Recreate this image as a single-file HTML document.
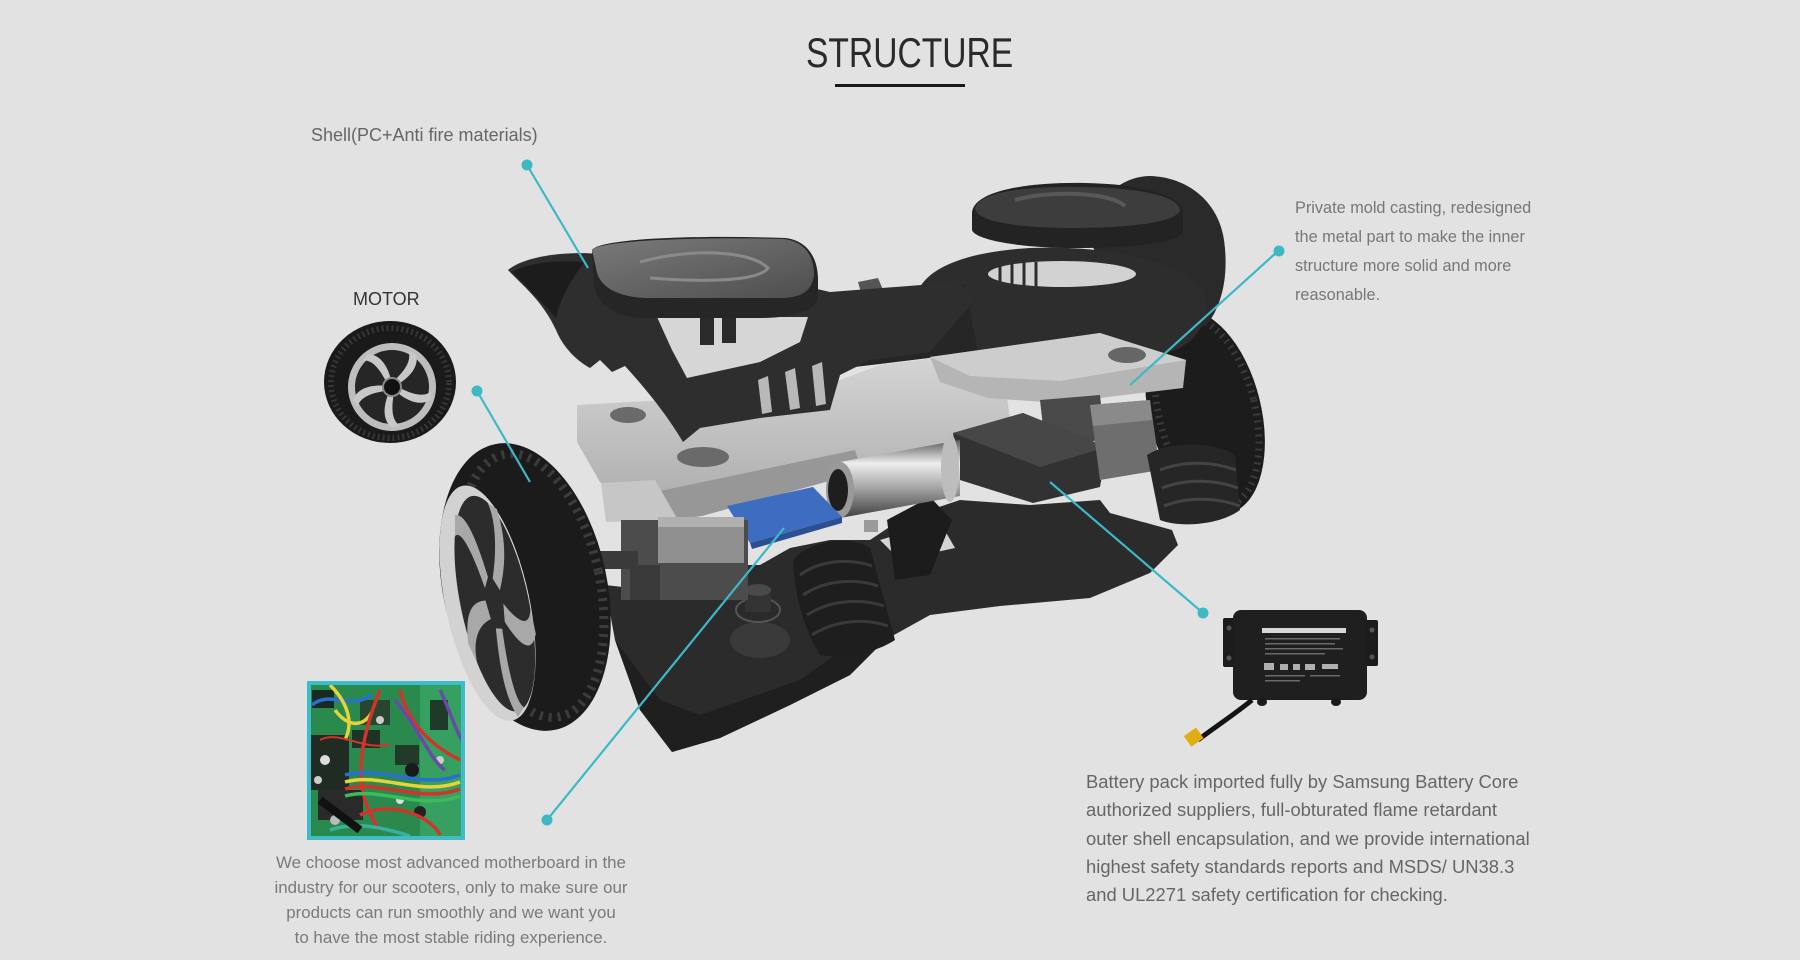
<!DOCTYPE html>
<html><head><meta charset="utf-8">
<style>
html,body{margin:0;padding:0;}
body{width:1800px;height:960px;background:#e2e2e2;position:relative;overflow:hidden;font-family:"Liberation Sans",sans-serif;}
svg{position:absolute;left:0;top:0;}
.t{position:absolute;white-space:nowrap;}
</style></head><body>
<svg width="1800" height="960" viewBox="0 0 1800 960">
<defs>
 <linearGradient id="cyl" x1="0" y1="0" x2="0" y2="1">
  <stop offset="0" stop-color="#5a5a5a"/><stop offset="0.3" stop-color="#eeeeee"/><stop offset="0.6" stop-color="#a8a8a8"/><stop offset="1" stop-color="#3e3e3e"/>
 </linearGradient>
 <linearGradient id="frame" x1="0" y1="0" x2="0" y2="1">
  <stop offset="0" stop-color="#d6d6d6"/><stop offset="1" stop-color="#a9a9a9"/>
 </linearGradient>
 <linearGradient id="pad" x1="0" y1="0" x2="1" y2="1">
  <stop offset="0" stop-color="#7a7a7a"/><stop offset="1" stop-color="#4e4e4e"/>
 </linearGradient>
 <clipPath id="mbclip"><rect x="309" y="683" width="154" height="155"/></clipPath>
</defs>

<!-- title underline -->
<rect x="835" y="84" width="130" height="3" fill="#1a1a1a"/>

<!-- right wheel -->
<g transform="rotate(-14 1205 412)">
 <ellipse cx="1205" cy="412" rx="56" ry="104" fill="#1c1c1c"/>
 <ellipse cx="1207" cy="412" rx="48" ry="96" fill="none" stroke="#3a3a3a" stroke-width="7" stroke-dasharray="2 5"/>
</g>

<!-- right hump -->
<path d="M1088,238 C1094,196 1124,176 1150,176 C1186,177 1218,200 1224,240 C1229,276 1222,306 1206,326 L1140,336 Z" fill="#2a2a2a"/>
<!-- right shell -->
<path d="M915,302 C918,270 962,252 1030,248 C1100,245 1172,258 1200,286 C1214,306 1204,336 1178,349 C1148,361 1060,363 990,363 C944,360 914,332 915,302 Z" fill="#2d2d2d"/>
<ellipse cx="1062" cy="274" rx="74" ry="13" fill="#d2d2d2"/>
<g stroke="#2d2d2d" stroke-width="3">
 <line x1="1000" y1="264" x2="1000" y2="286"/><line x1="1012" y1="262" x2="1012" y2="287"/><line x1="1024" y1="262" x2="1024" y2="287"/><line x1="1036" y1="262" x2="1036" y2="287"/>
</g>
<!-- right footpad -->
<path d="M972,212 C975,190 1030,182 1085,183 C1140,184 1180,194 1183,212 L1183,232 C1175,245 1120,248 1075,248 C1020,248 975,240 972,230 Z" fill="#232323"/>
<path d="M975,208 C980,191 1030,186 1085,187 C1140,188 1178,196 1180,210 C1178,222 1130,228 1075,228 C1020,228 976,222 975,208 Z" fill="#3d3d3d"/>
<path d="M1015,200 C1050,190 1110,192 1125,206" fill="none" stroke="#585858" stroke-width="4"/>

<!-- center tube -->
<path d="M800,302 L965,284 L978,352 L880,364 L812,372 Z" fill="#262626"/>
<path d="M858,282 L878,278 L884,292 L862,296 Z" fill="#555"/>

<!-- silver frame -->
<path d="M577,405 L700,398 L840,380 L880,365 L1000,350 L1012,432 L960,446 L860,470 L700,502 L652,522 L600,482 L577,442 Z" fill="url(#frame)"/>
<path d="M655,492 L855,450 L862,472 L702,516 L660,522 Z" fill="#979797"/>
<ellipse cx="628" cy="415" rx="18" ry="8" fill="#6a6a6a"/>
<ellipse cx="703" cy="457" rx="26" ry="10" fill="#6a6a6a"/>
<!-- right plate -->
<path d="M930,357 L1100,333 L1186,360 L1183,388 L1058,403 L988,398 L940,382 Z" fill="#b5b5b5"/>
<path d="M930,357 L1100,333 L1186,360 L1060,381 L970,376 Z" fill="#cdcdcd"/>
<ellipse cx="1127" cy="355" rx="19" ry="8" fill="#666"/>

<!-- left shell -->
<path d="M508,270 C525,256 565,251 600,254 L700,262 L830,292 L960,282 L975,300 L930,352 L870,360 L840,375 L830,410 L760,418 L700,428 L683,442 C665,412 645,388 625,366 L612,372 L600,360 L590,368 C575,360 562,345 556,330 C542,300 522,285 508,270 Z" fill="#2e2e2e"/>
<path d="M512,272 C530,262 560,260 585,262 C570,280 560,300 556,318 C540,300 525,285 512,272 Z" fill="#1c1c1c"/>
<!-- gap -->
<path d="M657,317 L808,317 L800,342 L760,362 L687,378 L672,350 Z" fill="#d6d6d6"/>
<rect x="700" y="317" width="14" height="28" fill="#2a2a2a"/><rect x="722" y="317" width="14" height="26" fill="#2a2a2a"/>
<!-- rib light gaps -->
<path d="M758,380 L768,376 L772,412 L762,414 Z" fill="#b8b8b8"/>
<path d="M785,372 L795,368 L800,408 L790,410 Z" fill="#b8b8b8"/>
<path d="M812,366 L822,362 L826,404 L816,406 Z" fill="#b8b8b8"/>

<!-- left footpad -->
<path d="M592,250 C600,238 700,235 785,238 C805,240 818,255 818,280 L818,300 C812,312 790,318 760,318 L640,318 C610,316 596,300 594,285 Z" fill="#262626"/>
<path d="M592,250 C600,240 700,237 783,239 C803,241 814,254 814,275 C812,292 800,298 780,298 L650,298 C615,298 598,285 596,268 Z" fill="url(#pad)"/>
<path d="M640,262 C690,248 750,250 768,268 C758,282 700,282 650,278" fill="none" stroke="#8a8a8a" stroke-width="3"/>

<!-- dark box and right parts -->
<path d="M1040,400 L1100,395 L1105,440 L1045,445 Z" fill="#4a4a4a"/>
<path d="M953,433 L1023,413 L1107,447 L1100,487 L1033,503 L960,480 Z" fill="#323232"/>
<path d="M953,433 L1023,413 L1107,447 L1040,467 Z" fill="#474747"/>
<path d="M1090,405 L1150,400 L1160,470 L1100,480 Z" fill="#6e6e6e"/>
<path d="M1090,405 L1150,400 L1152,420 L1093,426 Z" fill="#8a8a8a"/>

<!-- tray -->
<path d="M605,585 L615,640 L640,710 L672,752 L720,738 L790,705 L850,675 L885,640 L930,615 L1000,606 L1090,598 L1150,573 L1178,545 L1172,530 L1110,513 L1100,500 L1030,505 L960,500 L900,520 L870,540 L830,540 L790,548 L760,565 L700,565 L650,590 Z" fill="#2b2b2b"/>
<path d="M615,640 L640,710 L672,752 L720,738 L790,705 L850,675 L885,640 L870,630 L800,680 L700,715 L660,700 Z" fill="#1f1f1f"/>
<path d="M880,540 L940,522 L955,548 L900,560 Z" fill="#d4d4d4"/>
<!-- fitting -->
<ellipse cx="760" cy="640" rx="30" ry="18" fill="#3a3a3a"/>
<ellipse cx="758" cy="610" rx="22" ry="12" fill="#2a2a2a" stroke="#555" stroke-width="2"/>
<rect x="745" y="590" width="26" height="22" fill="#333"/>
<ellipse cx="758" cy="590" rx="13" ry="6" fill="#4a4a4a"/>
<!-- left bellows -->
<path d="M793,560 C810,540 850,535 870,548 L895,640 C880,650 850,660 820,655 C805,630 795,600 793,560 Z" fill="#1e1e1e"/>
<g stroke="#3a3a3a" stroke-width="3" fill="none">
 <path d="M800,575 C820,560 850,558 872,566"/><path d="M803,595 C825,580 855,578 878,586"/><path d="M807,615 C830,600 860,598 884,606"/><path d="M812,635 C835,620 865,618 888,626"/>
</g>
<path d="M887,520 L930,497 L952,520 L930,575 L895,580 Z" fill="#1c1c1c"/>
<!-- right bellows -->
<path d="M1147,455 C1170,440 1215,442 1235,455 L1240,510 C1220,525 1180,528 1160,520 Z" fill="#262626"/>
<g stroke="#444" stroke-width="3" fill="none">
 <path d="M1160,470 C1185,460 1215,462 1236,470"/><path d="M1162,488 C1187,478 1217,480 1238,488"/><path d="M1164,506 C1189,496 1219,498 1240,506"/>
</g>

<!-- cylinder -->
<path d="M840,462 L960,440 L960,496 L840,518 Z" fill="url(#cyl)"/>
<ellipse cx="950" cy="468" rx="9" ry="34" fill="#bdbdbd"/>
<ellipse cx="840" cy="490" rx="14" ry="28" fill="#9a9a9a"/>
<ellipse cx="838" cy="490" rx="10" ry="21" fill="#1e1e1e"/>
<rect x="864" y="520" width="14" height="12" fill="#9a9a9a"/>

<!-- blue battery -->
<path d="M727,506 L813,487 L842,517 L750,543 Z" fill="#3d6cc0"/>
<path d="M750,543 L842,517 L842,523 L752,549 Z" fill="#2a4f93"/>

<!-- lower blocks -->
<path d="M601,483 L655,480 L678,520 L606,522 Z" fill="#c6c6c6"/>
<rect x="621" y="520" width="127" height="80" fill="#4c4c4c"/>
<rect x="658" y="517" width="86" height="46" fill="#909090"/>
<rect x="658" y="517" width="86" height="10" fill="#b0b0b0"/>
<rect x="630" y="565" width="30" height="35" fill="#3a3a3a"/>

<!-- left wheel axle -->
<rect x="588" y="551" width="50" height="18" fill="#3a3a3a"/>
<!-- left wheel -->
<g transform="rotate(-12 525 587)">
 <ellipse cx="525" cy="587" rx="82" ry="146" fill="#1b1b1b"/>
 <ellipse cx="532" cy="587" rx="68" ry="134" fill="none" stroke="#3c3c3c" stroke-width="9" stroke-dasharray="3 6"/>
 <ellipse cx="485" cy="595" rx="42" ry="120" fill="#d2d2d2"/>
 <ellipse cx="492" cy="597" rx="34" ry="110" fill="#2c2c2c"/>
 <g transform="translate(492,597) scale(0.31,1)" fill="#a8a8a8">
  <path d="M10,-25 C40,-50 60,-80 45,-100 L70,-92 C80,-60 60,-35 25,-12 Z"/>
  <path d="M10,-25 C40,-50 60,-80 45,-100 L70,-92 C80,-60 60,-35 25,-12 Z" transform="rotate(72)"/>
  <path d="M10,-25 C40,-50 60,-80 45,-100 L70,-92 C80,-60 60,-35 25,-12 Z" transform="rotate(144)"/>
  <path d="M10,-25 C40,-50 60,-80 45,-100 L70,-92 C80,-60 60,-35 25,-12 Z" transform="rotate(216)"/>
  <path d="M10,-25 C40,-50 60,-80 45,-100 L70,-92 C80,-60 60,-35 25,-12 Z" transform="rotate(288)"/>
 </g>
</g>

<!-- motor wheel -->
<ellipse cx="390" cy="382" rx="66" ry="61" fill="#1a1a1a"/>
<ellipse cx="390" cy="383" rx="59" ry="55" fill="none" stroke="#363636" stroke-width="6" stroke-dasharray="2 3"/>
<circle cx="392" cy="387" r="44" fill="#bdbdbd"/>
<circle cx="392" cy="387" r="37" fill="#262626"/>
<g transform="translate(392,387)" fill="#c8c8c8">
 <path d="M4,-8 C14,-18 20,-28 16,-36 L24,-33 C27,-22 20,-12 8,-4 Z"/>
 <path d="M4,-8 C14,-18 20,-28 16,-36 L24,-33 C27,-22 20,-12 8,-4 Z" transform="rotate(72)"/>
 <path d="M4,-8 C14,-18 20,-28 16,-36 L24,-33 C27,-22 20,-12 8,-4 Z" transform="rotate(144)"/>
 <path d="M4,-8 C14,-18 20,-28 16,-36 L24,-33 C27,-22 20,-12 8,-4 Z" transform="rotate(216)"/>
 <path d="M4,-8 C14,-18 20,-28 16,-36 L24,-33 C27,-22 20,-12 8,-4 Z" transform="rotate(288)"/>
</g>
<circle cx="392" cy="387" r="9" fill="#111" stroke="#888" stroke-width="2"/>

<!-- motherboard image -->
<g clip-path="url(#mbclip)">
 <rect x="309" y="683" width="154" height="155" fill="#2a8a4e"/>
 <rect x="420" y="683" width="43" height="155" fill="#35a060"/>
 <rect x="311" y="735" width="38" height="55" fill="#1f2b23"/>
 <rect x="318" y="790" width="45" height="30" fill="#2a2a2a"/>
 <rect x="360" y="700" width="30" height="25" fill="#27452f"/>
 <rect x="352" y="730" width="28" height="18" fill="#1e3326"/>
 <rect x="395" y="745" width="24" height="20" fill="#223a2a"/>
 <rect x="430" y="700" width="18" height="30" fill="#1f3a28"/>
 <rect x="312" y="690" width="22" height="18" fill="#1a2a20"/>
 <circle cx="325" cy="760" r="5" fill="#ddd"/><circle cx="380" cy="720" r="4" fill="#ccc"/>
 <circle cx="420" cy="812" r="6" fill="#222"/><circle cx="440" cy="760" r="4" fill="#ccc"/>
 <circle cx="335" cy="820" r="5" fill="#bbb"/><circle cx="400" cy="800" r="4" fill="#ddd"/>
 <circle cx="318" cy="780" r="4" fill="#ccc"/><circle cx="412" cy="770" r="7" fill="#1a1a1a"/>
 <g fill="none" stroke-width="3.5">
  <path d="M312,705 C330,690 350,710 372,695" stroke="#2a6fd0"/>
  <path d="M330,685 C345,700 355,720 345,740" stroke="#e6d23a"/>
  <path d="M335,710 C350,730 365,725 372,712" stroke="#e6d23a"/>
  <path d="M380,690 C360,740 350,790 380,830" stroke="#d2342c"/>
  <path d="M400,690 C410,730 440,750 460,760" stroke="#d2342c"/>
  <path d="M345,775 C380,765 420,790 460,775" stroke="#2a6fd0"/>
  <path d="M345,782 C380,772 420,797 460,782" stroke="#e6d23a"/>
  <path d="M345,789 C380,779 420,804 460,789" stroke="#d2342c"/>
  <path d="M345,796 C380,786 420,811 460,796" stroke="#3dbb5c"/>
  <path d="M395,700 C420,730 430,760 445,770" stroke="#6a4aa8"/>
  <path d="M440,690 C450,710 455,730 462,740" stroke="#6a4aa8"/>
  <path d="M360,815 C390,800 430,815 440,835" stroke="#d2342c"/>
  <path d="M330,830 C360,820 390,830 410,836" stroke="#3ab0a0"/>
  <path d="M320,740 C340,730 360,750 390,745" stroke="#d2342c" stroke-width="2"/>
  <path d="M320,800 L360,830" stroke="#111" stroke-width="8"/>
 </g>
</g>
<rect x="309" y="683" width="154" height="155" fill="none" stroke="#3dbdc8" stroke-width="4"/>

<!-- battery image -->
<rect x="1223" y="618" width="14" height="49" rx="2" fill="#1c1c1c"/>
<rect x="1364" y="620" width="14" height="46" rx="2" fill="#1c1c1c"/>
<circle cx="1229" cy="628" r="2.5" fill="#555"/><circle cx="1229" cy="658" r="2.5" fill="#555"/>
<circle cx="1372" cy="630" r="2.5" fill="#555"/><circle cx="1372" cy="657" r="2.5" fill="#555"/>
<rect x="1233" y="610" width="134" height="90" rx="8" fill="#1f1f1f"/>
<rect x="1262" y="628" width="84" height="5" fill="#d8d8d8"/>
<g fill="#6a6a6a">
 <rect x="1265" y="638" width="75" height="1.5"/><rect x="1265" y="643" width="70" height="1.5"/><rect x="1265" y="648" width="78" height="1.5"/><rect x="1265" y="653" width="60" height="1.5"/>
 <rect x="1265" y="675" width="40" height="1.5"/><rect x="1310" y="675" width="30" height="1.5"/><rect x="1265" y="680" width="35" height="1.5"/>
</g>
<g fill="#b0b0b0"><rect x="1264" y="663" width="10" height="7"/><rect x="1280" y="664" width="8" height="6"/><rect x="1293" y="664" width="7" height="6"/><rect x="1305" y="664" width="10" height="6"/><rect x="1322" y="664" width="16" height="5"/></g>
<ellipse cx="1262" cy="702" rx="5" ry="4" fill="#1a1a1a"/><ellipse cx="1336" cy="702" rx="5" ry="4" fill="#1a1a1a"/>
<path d="M1252,700 C1235,714 1215,727 1198,740" fill="none" stroke="#141414" stroke-width="5"/>
<rect x="1186" y="731" width="15" height="13" fill="#e0ae12" transform="rotate(-35 1193 737)"/>

<!-- connector lines -->
<g stroke="#3db9c6" stroke-width="2.2">
 <line x1="527" y1="165" x2="588" y2="268"/>
 <line x1="477" y1="391" x2="530" y2="482"/>
 <line x1="1278" y1="251" x2="1130" y2="385"/>
 <line x1="1050" y1="482" x2="1203" y2="613"/>
 <line x1="784" y1="528" x2="547" y2="820"/>
</g>
<g fill="#3db9c6">
 <circle cx="527" cy="165" r="5.5"/><circle cx="477" cy="391" r="5.5"/><circle cx="1279" cy="251" r="5.5"/><circle cx="1203" cy="613" r="5.5"/><circle cx="547" cy="820" r="5.5"/>
</g>
</svg>

<div class="t" style="left:806px;top:31.5px;font-size:42px;line-height:42px;color:#2a2a2a;transform:scaleX(0.8);transform-origin:left top;">STRUCTURE</div>
<div class="t" style="left:311px;top:125px;font-size:18px;line-height:20px;color:#666;">Shell(PC+Anti fire materials)</div>
<div class="t" style="left:353px;top:289px;font-size:18px;line-height:20px;color:#333;">MOTOR</div>
<div class="t" style="left:1295px;top:193.5px;font-size:16.3px;line-height:29px;color:#777;">Private mold casting, redesigned<br>the metal part to make the inner<br>structure more solid and more<br>reasonable.</div>
<div class="t" style="left:1086px;top:768px;font-size:18.4px;line-height:28.3px;color:#666;">Battery pack imported fully by Samsung Battery Core<br>authorized suppliers, full-obturated flame retardant<br>outer shell encapsulation, and we provide international<br>highest safety standards reports and MSDS/ UN38.3<br>and UL2271 safety certification for checking.</div>
<div class="t" style="left:250px;width:402px;top:849.5px;font-size:16.9px;line-height:25px;color:#7a7a7a;text-align:center;">We choose most advanced motherboard in the<br>industry for our scooters, only to make sure our<br>products can run smoothly and we want you<br>to have the most stable riding experience.</div>
</body></html>
